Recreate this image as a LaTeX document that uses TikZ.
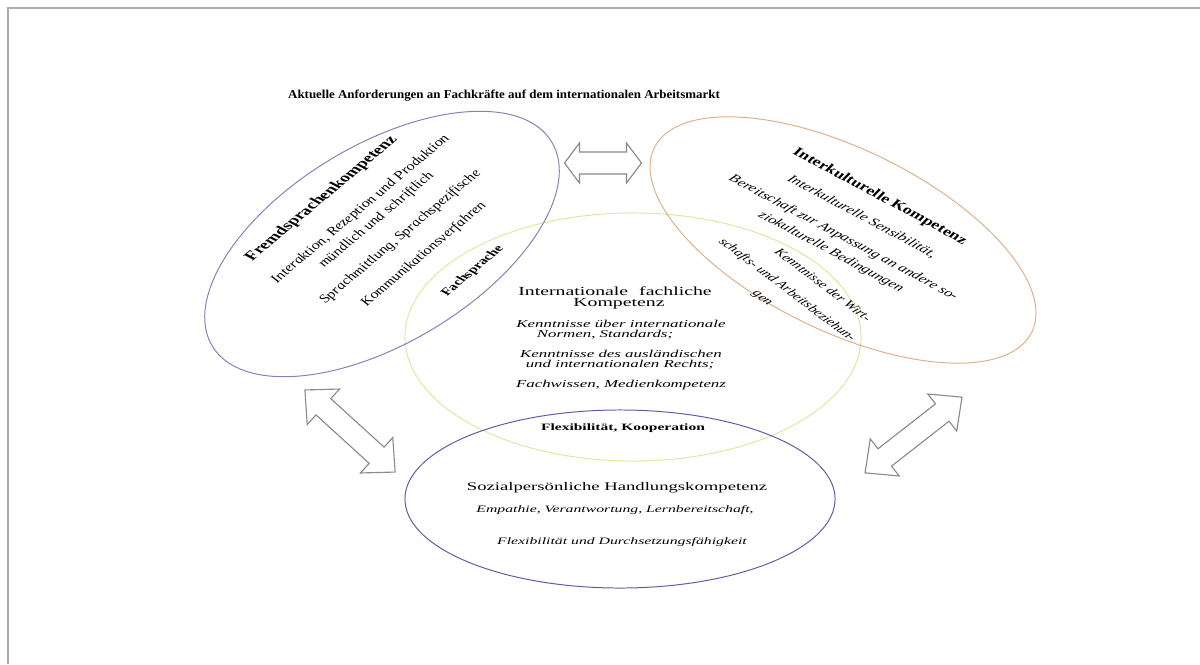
\documentclass[tikz,border=0pt]{standalone}
\usepackage{fontspec}
\setmainfont{Liberation Serif}
\usetikzlibrary{shapes.geometric}

\definecolor{fscol}{HTML}{8282BA}
\definecolor{ikcol}{HTML}{DEB088}
\definecolor{ifcol}{HTML}{E2E4A4}
\definecolor{shcol}{HTML}{5C5CA8}
\definecolor{framecol}{HTML}{ABABAB}
\definecolor{arrowcol}{HTML}{8A8A8A}

% double block arrow: centre, angle, half length, head length, head half width, shaft half width
\newcommand{\dblarrow}[6]{%
	\begin{scope}[shift={(#1)}, rotate=#2]
		\draw[blockarrow] (-#3,0) -- ({-#3+#4},#5) -- ({-#3+#4},#6) -- ({#3-#4},#6) -- ({#3-#4},#5) -- (#3,0)
			-- ({#3-#4},-#5) -- ({#3-#4},-#6) -- ({-#3+#4},-#6) -- ({-#3+#4},-#5) -- cycle;
	\end{scope}}

\begin{document}
\begin{tikzpicture}[x=0.025cm, y=-0.025cm,
	ring/.style={shape=ellipse, line width=0.7pt, inner sep=0pt},
	blockarrow/.style={draw=arrowcol, fill=white, line width=0.8pt, line join=miter},
	wide/.style={xscale=1.6, inner sep=0pt},
	lbl/.style={inner sep=0pt},
	long/.style={inner sep=0pt, xscale=1.1}]
	
	\useasboundingbox (0,0) rectangle (1200,664);
	\draw[framecol, line width=1.4pt] (8,664) -- (8,8) -- (1200,8);
	
	% title
	\node[lbl, xscale=1.07, font=\bfseries\fontsize{8.6}{9}\selectfont] (title) at (504,96)
		{Aktuelle Anforderungen an Fachkräfte auf dem internationalen Arbeitsmarkt};
	
	% the four fields
	\node[ring, draw=ifcol, minimum width=11.4cm, minimum height=6.2cm] (ifk) at (633,337) {};
	\node[ring, draw=fscol, minimum width=9.9cm, minimum height=4.95cm, rotate=31] (fsk) at (382,244) {};
	\node[ring, draw=ikcol, minimum width=10.5cm, minimum height=4.55cm, rotate=-26] (ikk) at (843,240) {};
	\node[ring, draw=shcol, minimum width=10.75cm, minimum height=4.45cm] (shk) at (620,499) {};
	
	% arrows
	\dblarrow{603,163}{0}{38.5}{15}{20}{11}
	\dblarrow{350,431}{-42.3}{61}{25}{24}{11}
	\dblarrow{913.5,435}{38}{61.5}{25}{23.5}{11}
	
	% Fremdsprachenkompetenz
	\begin{scope}[shift={(380,222)}, xscale=1.5, rotate=51.5, transform shape]
		\node[long, font=\bfseries\fontsize{8.8}{11}\selectfont] (fs0) at (-6,-45) {Fremdsprachenkompetenz};
		\node[long, font=\itshape\fontsize{7.8}{10}\selectfont] (fs1) at (2,-18) {Interaktion, Rezeption und Produktion};
		\node[long, font=\itshape\fontsize{7.8}{10}\selectfont] (fs2) at (0,-3) {mündlich und schriftlich};
		\node[long, font=\itshape\fontsize{7.8}{10}\selectfont] (fs3) at (-3,20) {Sprachmittlung, Sprachspezifische};
		\node[long, font=\itshape\fontsize{7.8}{10}\selectfont] (fs4) at (-7,43) {Kommunikationsverfahren};
		\node[long, font=\bfseries\fontsize{7.2}{9}\selectfont] (fs5) at (0,79) {Fachsprache};
	\end{scope}
	
	% Interkulturelle Kompetenz
	\begin{scope}[shift={(831,252)}, xscale=1.35, rotate=-35.7, transform shape]
		\node[long, font=\bfseries\fontsize{8.8}{11}\selectfont] (ik0) at (-3,-66) {Interkulturelle Kompetenz};
		\node[long, font=\itshape\fontsize{8}{10}\selectfont] (ik1) at (-2,-42) {Interkulturelle Sensibilität,};
		\node[long, font=\itshape\fontsize{8}{10}\selectfont] (ik2) at (-1,-17) {Bereitschaft zur Anpassung an andere so-};
		\node[long, font=\itshape\fontsize{8}{10}\selectfont] (ik3) at (0,0) {ziokulturelle Bedingungen};
	\end{scope}
	\begin{scope}[shift={(787,290)}, xscale=1.35, rotate=-45.5, transform shape]
		\node[long, font=\itshape\fontsize{7.6}{10}\selectfont] (ik4) at (15,-23) {Kenntnisse der Wirt-};
		\node[long, font=\itshape\fontsize{7.6}{10}\selectfont] (ik5) at (0,0) {schafts- und Arbeitsbeziehun-};
		\node[long, font=\itshape\fontsize{7.6}{10}\selectfont] (ik6) at (-7,20) {gen};
	\end{scope}
	
	% Internationale fachliche Kompetenz
	\node[wide, font=\fontsize{8.8}{10}\selectfont] (if0) at (615,291) {Internationale\hspace{0.3em} fachliche};
	\node[wide, font=\fontsize{8.8}{10}\selectfont] (if1) at (619,304) {Kompetenz};
	\node[wide, font=\itshape\fontsize{7.5}{9}\selectfont] (if2) at (621,324) {Kenntnisse über internationale};
	\node[wide, font=\itshape\fontsize{7.5}{9}\selectfont] (if3) at (605,335) {Normen, Standards;};
	\node[wide, font=\itshape\fontsize{7.5}{9}\selectfont] (if4) at (621,354) {Kenntnisse des ausländischen};
	\node[wide, font=\itshape\fontsize{7.5}{9}\selectfont] (if5) at (620,365) {und internationalen Rechts;};
	\node[wide, font=\itshape\fontsize{7.5}{9}\selectfont] (if6) at (621,385) {Fachwissen, Medienkompetenz};
	\node[wide, font=\bfseries\fontsize{6.9}{8}\selectfont] (if7) at (623,428) {Flexibilität, Kooperation};
	
	% Sozialpersönliche Handlungskompetenz
	\node[wide, font=\fontsize{8.3}{10}\selectfont] (sh0) at (617,488) {Sozialpersönliche Handlungskompetenz};
	\node[wide, font=\itshape\fontsize{7}{9}\selectfont] (sh1) at (615,510) {Empathie, Verantwortung, Lernbereitschaft,};
	\node[wide, font=\itshape\fontsize{7}{9}\selectfont] (sh2) at (622,542) {Flexibilität und Durchsetzungsfähigkeit};
	
\end{tikzpicture}
\end{document}
